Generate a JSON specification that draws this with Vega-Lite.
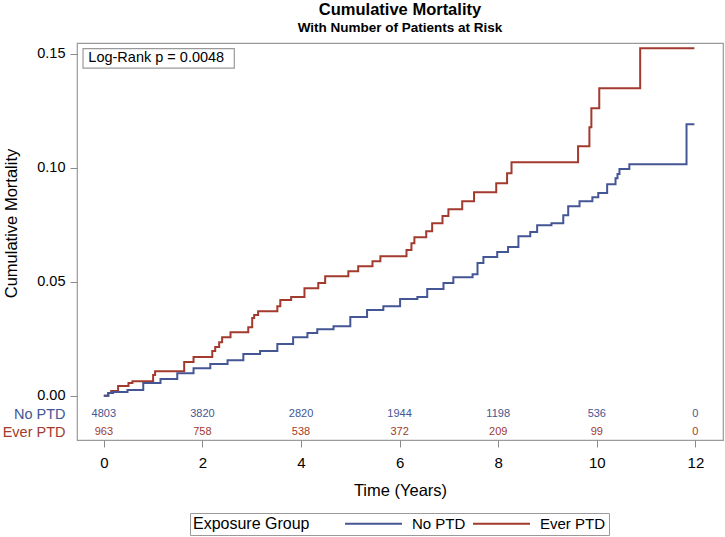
{
  "$schema": "https://vega.github.io/schema/vega-lite/v6.json",
  "width": 646,
  "height": 397,
  "autosize": {"type": "none"},
  "padding": {"left": 77, "top": 43, "right": 2, "bottom": 97},
  "config": {
    "font": "Liberation Sans",
    "view": {"stroke": "#9a9a9a", "strokeWidth": 1.2},
    "axis": {"grid": false, "domain": false, "tickColor": "#8a8a8a", "tickSize": 7, "labelColor": "#000", "titleColor": "#000", "titleFontWeight": "normal"}
  },
  "title": {
    "text": "Cumulative Mortality",
    "subtitle": "With Number of Patients at Risk",
    "fontSize": 16.5,
    "fontWeight": "bold",
    "subtitleFontSize": 13.5,
    "subtitleFontWeight": "bold",
    "subtitleColor": "#000",
    "color": "#000",
    "anchor": "middle",
    "offset": 9,
    "subtitlePadding": 2
  },
  "datasets": {
    "curves": [
      {"t": 0, "cm": 0, "group": "Ever PTD"},
      {"t": 0.09, "cm": 0.0012, "group": "Ever PTD"},
      {"t": 0.15, "cm": 0.0021, "group": "Ever PTD"},
      {"t": 0.29, "cm": 0.0043, "group": "Ever PTD"},
      {"t": 0.5, "cm": 0.0056, "group": "Ever PTD"},
      {"t": 0.58, "cm": 0.0064, "group": "Ever PTD"},
      {"t": 1.0, "cm": 0.0091, "group": "Ever PTD"},
      {"t": 1.04, "cm": 0.0108, "group": "Ever PTD"},
      {"t": 1.63, "cm": 0.0148, "group": "Ever PTD"},
      {"t": 1.82, "cm": 0.017, "group": "Ever PTD"},
      {"t": 2.2, "cm": 0.0196, "group": "Ever PTD"},
      {"t": 2.26, "cm": 0.0214, "group": "Ever PTD"},
      {"t": 2.34, "cm": 0.0235, "group": "Ever PTD"},
      {"t": 2.4, "cm": 0.0257, "group": "Ever PTD"},
      {"t": 2.57, "cm": 0.0279, "group": "Ever PTD"},
      {"t": 2.93, "cm": 0.0301, "group": "Ever PTD"},
      {"t": 3.01, "cm": 0.0341, "group": "Ever PTD"},
      {"t": 3.05, "cm": 0.0354, "group": "Ever PTD"},
      {"t": 3.13, "cm": 0.0371, "group": "Ever PTD"},
      {"t": 3.52, "cm": 0.0393, "group": "Ever PTD"},
      {"t": 3.58, "cm": 0.042, "group": "Ever PTD"},
      {"t": 3.8, "cm": 0.0433, "group": "Ever PTD"},
      {"t": 4.07, "cm": 0.0472, "group": "Ever PTD"},
      {"t": 4.35, "cm": 0.0494, "group": "Ever PTD"},
      {"t": 4.49, "cm": 0.0524, "group": "Ever PTD"},
      {"t": 4.96, "cm": 0.0546, "group": "Ever PTD"},
      {"t": 5.16, "cm": 0.0568, "group": "Ever PTD"},
      {"t": 5.45, "cm": 0.059, "group": "Ever PTD"},
      {"t": 5.61, "cm": 0.0612, "group": "Ever PTD"},
      {"t": 6.14, "cm": 0.0639, "group": "Ever PTD"},
      {"t": 6.24, "cm": 0.0669, "group": "Ever PTD"},
      {"t": 6.3, "cm": 0.0695, "group": "Ever PTD"},
      {"t": 6.54, "cm": 0.0722, "group": "Ever PTD"},
      {"t": 6.66, "cm": 0.0757, "group": "Ever PTD"},
      {"t": 6.87, "cm": 0.0788, "group": "Ever PTD"},
      {"t": 6.99, "cm": 0.0818, "group": "Ever PTD"},
      {"t": 7.27, "cm": 0.0853, "group": "Ever PTD"},
      {"t": 7.51, "cm": 0.0893, "group": "Ever PTD"},
      {"t": 7.96, "cm": 0.0932, "group": "Ever PTD"},
      {"t": 8.18, "cm": 0.0976, "group": "Ever PTD"},
      {"t": 8.27, "cm": 0.1024, "group": "Ever PTD"},
      {"t": 9.62, "cm": 0.1094, "group": "Ever PTD"},
      {"t": 9.85, "cm": 0.1178, "group": "Ever PTD"},
      {"t": 9.89, "cm": 0.1261, "group": "Ever PTD"},
      {"t": 10.05, "cm": 0.1349, "group": "Ever PTD"},
      {"t": 10.88, "cm": 0.1524, "group": "Ever PTD"},
      {"t": 11.98, "cm": 0.1524, "group": "Ever PTD"},
      {"t": 0, "cm": 0, "group": "No PTD"},
      {"t": 0.09, "cm": 0.0012, "group": "No PTD"},
      {"t": 0.19, "cm": 0.0016, "group": "No PTD"},
      {"t": 0.48, "cm": 0.0025, "group": "No PTD"},
      {"t": 0.8, "cm": 0.0056, "group": "No PTD"},
      {"t": 1.15, "cm": 0.0073, "group": "No PTD"},
      {"t": 1.49, "cm": 0.0099, "group": "No PTD"},
      {"t": 1.82, "cm": 0.0121, "group": "No PTD"},
      {"t": 2.16, "cm": 0.0139, "group": "No PTD"},
      {"t": 2.51, "cm": 0.0156, "group": "No PTD"},
      {"t": 2.83, "cm": 0.0183, "group": "No PTD"},
      {"t": 3.17, "cm": 0.0196, "group": "No PTD"},
      {"t": 3.52, "cm": 0.0227, "group": "No PTD"},
      {"t": 3.84, "cm": 0.0257, "group": "No PTD"},
      {"t": 4.13, "cm": 0.0275, "group": "No PTD"},
      {"t": 4.33, "cm": 0.0292, "group": "No PTD"},
      {"t": 4.66, "cm": 0.0305, "group": "No PTD"},
      {"t": 5.0, "cm": 0.0345, "group": "No PTD"},
      {"t": 5.34, "cm": 0.0376, "group": "No PTD"},
      {"t": 5.67, "cm": 0.0393, "group": "No PTD"},
      {"t": 6.01, "cm": 0.0424, "group": "No PTD"},
      {"t": 6.36, "cm": 0.0433, "group": "No PTD"},
      {"t": 6.56, "cm": 0.0468, "group": "No PTD"},
      {"t": 6.89, "cm": 0.0494, "group": "No PTD"},
      {"t": 7.09, "cm": 0.052, "group": "No PTD"},
      {"t": 7.48, "cm": 0.0533, "group": "No PTD"},
      {"t": 7.58, "cm": 0.0582, "group": "No PTD"},
      {"t": 7.7, "cm": 0.0608, "group": "No PTD"},
      {"t": 7.98, "cm": 0.063, "group": "No PTD"},
      {"t": 8.2, "cm": 0.0652, "group": "No PTD"},
      {"t": 8.41, "cm": 0.07, "group": "No PTD"},
      {"t": 8.65, "cm": 0.0718, "group": "No PTD"},
      {"t": 8.79, "cm": 0.0748, "group": "No PTD"},
      {"t": 9.08, "cm": 0.0757, "group": "No PTD"},
      {"t": 9.32, "cm": 0.0792, "group": "No PTD"},
      {"t": 9.42, "cm": 0.0831, "group": "No PTD"},
      {"t": 9.65, "cm": 0.0853, "group": "No PTD"},
      {"t": 9.91, "cm": 0.0871, "group": "No PTD"},
      {"t": 10.03, "cm": 0.0889, "group": "No PTD"},
      {"t": 10.21, "cm": 0.0928, "group": "No PTD"},
      {"t": 10.38, "cm": 0.0954, "group": "No PTD"},
      {"t": 10.42, "cm": 0.0972, "group": "No PTD"},
      {"t": 10.46, "cm": 0.0994, "group": "No PTD"},
      {"t": 10.66, "cm": 0.1015, "group": "No PTD"},
      {"t": 11.82, "cm": 0.1191, "group": "No PTD"},
      {"t": 11.98, "cm": 0.1191, "group": "No PTD"}
    ],
    "risk": [
      {"t": 0, "n": 4803, "group": "No PTD"},
      {"t": 2, "n": 3820, "group": "No PTD"},
      {"t": 4, "n": 2820, "group": "No PTD"},
      {"t": 6, "n": 1944, "group": "No PTD"},
      {"t": 8, "n": 1198, "group": "No PTD"},
      {"t": 10, "n": 536, "group": "No PTD"},
      {"t": 12, "n": 0, "group": "No PTD"},
      {"t": 0, "n": 963, "group": "Ever PTD"},
      {"t": 2, "n": 758, "group": "Ever PTD"},
      {"t": 4, "n": 538, "group": "Ever PTD"},
      {"t": 6, "n": 372, "group": "Ever PTD"},
      {"t": 8, "n": 209, "group": "Ever PTD"},
      {"t": 10, "n": 99, "group": "Ever PTD"},
      {"t": 12, "n": 0, "group": "Ever PTD"}
    ],
    "stat": [{"label": "Log-Rank p = 0.0048"}]
  },
  "encoding": {
    "x": {
      "type": "quantitative",
      "scale": {"domain": [-0.544, 12.56], "nice": false, "zero": false},
      "axis": {"values": [0, 2, 4, 6, 8, 10, 12], "title": "Time (Years)", "labelFontSize": 15, "labelPadding": 8, "titleFontSize": 16.5, "titlePadding": 12}
    },
    "y": {
      "type": "quantitative",
      "scale": {"domain": [-0.0194, 0.1547], "nice": false, "zero": false},
      "axis": {
        "values": [-0.0159, -0.008, 0, 0.05, 0.1, 0.15],
        "labelExpr": "datum.value < -0.012 ? 'Ever PTD' : (datum.value < -0.004 ? 'No PTD' : format(datum.value, '.2f'))",
        "labelColor": {"condition": [{"test": "datum.value < -0.012", "value": "#A23A2E"}, {"test": "datum.value < -0.004", "value": "#445694"}], "value": "#000"},
        "tickColor": {"condition": {"test": "datum.value < -0.004", "value": "transparent"}, "value": "#8a8a8a"},
        "labelFontSize": 14.5,
        "labelPadding": 5,
        "title": "Cumulative Mortality",
        "titleFontSize": 16.5,
        "titleX": -58,
        "titleY": 180
      }
    }
  },
  "layer": [
    {
      "data": {"name": "curves"},
      "mark": {"type": "line", "interpolate": "step-after", "strokeWidth": 2},
      "encoding": {
        "x": {"field": "t", "type": "quantitative"},
        "y": {"field": "cm", "type": "quantitative"},
        "color": {
          "field": "group",
          "type": "nominal",
          "scale": {"domain": ["No PTD", "Ever PTD"], "range": ["#445694", "#A23A2E"]},
          "legend": {
            "orient": "none",
            "legendX": 113,
            "legendY": 470,
            "direction": "horizontal",
            "title": "Exposure Group",
            "titleOrient": "left",
            "titleFontSize": 16,
            "titleFontWeight": "normal",
            "titleColor": "#000",
            "titlePadding": 56,
            "labelFontSize": 15,
            "labelColor": "#000",
            "labelOffset": 31,
            "columnPadding": 2,
            "symbolType": "M-5,0H5",
            "symbolStrokeWidth": 2,
            "symbolSize": 130,
            "padding": 3,
            "strokeColor": "#9a9a9a"
          }
        }
      }
    },
    {
      "data": {"name": "stat"},
      "mark": {"type": "rect", "fill": "white", "stroke": "#9a9a9a", "strokeWidth": 1.2},
      "encoding": {
        "x": {"datum": -0.422},
        "x2": {"datum": 2.647},
        "y": {"datum": 0.1522},
        "y2": {"datum": 0.1437}
      }
    },
    {
      "data": {"name": "stat"},
      "mark": {"type": "text", "align": "left", "baseline": "middle", "fontSize": 14.5, "color": "#000"},
      "encoding": {
        "x": {"datum": -0.314},
        "y": {"datum": 0.148},
        "text": {"field": "label"}
      }
    },
    {
      "data": {"name": "risk"},
      "transform": [{"filter": "datum.group === 'No PTD'"}],
      "mark": {"type": "text", "align": "center", "baseline": "middle", "fontSize": 11, "color": "#445694"},
      "encoding": {
        "x": {"field": "t", "type": "quantitative"},
        "y": {"datum": -0.008},
        "text": {"field": "n"}
      }
    },
    {
      "data": {"name": "risk"},
      "transform": [{"filter": "datum.group === 'Ever PTD'"}],
      "mark": {"type": "text", "align": "center", "baseline": "middle", "fontSize": 11, "color": "#A23A2E"},
      "encoding": {
        "x": {"field": "t", "type": "quantitative"},
        "y": {"datum": -0.0159},
        "text": {"field": "n"}
      }
    }
  ]
}
